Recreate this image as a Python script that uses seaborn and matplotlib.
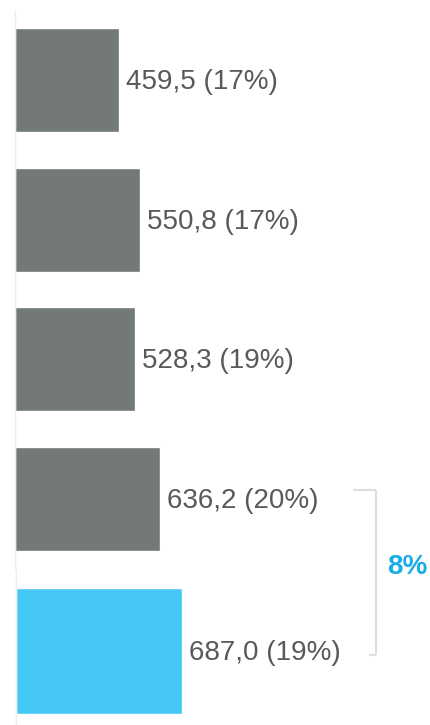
import matplotlib
matplotlib.use("Agg")
import matplotlib.pyplot as plt
from matplotlib.lines import Line2D
import seaborn as sns
import pandas as pd

# data
categories = ["P1", "P2", "P3", "P4", "P5"]
values = [459.5, 550.8, 528.3, 636.2, 687.0]
shares = [17, 17, 19, 20, 19]
growth_label = "8%"

GRAY = "#737878"
BLUE = "#45C8F5"
TEXT = "#595959"
ACCENT = "#1AACE6"
LINE = "#DDDDDD"

sns.set_theme(style="white")
plt.rcParams["font.family"] = ["Liberation Sans", "DejaVu Sans"]

W, H = 431, 725
fig = plt.figure(figsize=(W / 100, H / 100), dpi=100)

def fx(px):
    return px / W

def fy(py):
    return (H - py) / H

# top panel: gray bars
x0a, ya_top, ya_bot = 14.7, 10, 569
ax1 = fig.add_axes([fx(x0a), fy(ya_bot), fx(W - x0a), (ya_bot - ya_top) / H])
df1 = pd.DataFrame({"cat": categories[:4], "val": values[:4]})
sns.barplot(data=df1, x="val", y="cat", orient="h", color=GRAY, width=0.745,
            saturation=1, ax=ax1)
ax1.set_xlim(0, (W - x0a) / 0.2277)
ax1.set_ylim(3.5, -0.5)

# bottom panel: highlighted bar
x0b, yb_top, yb_bot = 16.3, 569, 725
ax2 = fig.add_axes([fx(x0b), fy(yb_bot), fx(W - x0b), (yb_bot - yb_top) / H])
df2 = pd.DataFrame({"cat": categories[4:], "val": values[4:]})
sns.barplot(data=df2, x="val", y="cat", orient="h", color=BLUE, width=0.8,
            saturation=1, ax=ax2)
ax2.set_xlim(0, (W - x0b) / 0.2416)
ax2.set_ylim(0.4698, -0.5206)

for ax in (ax1, ax2):
    for s in ("top", "right", "bottom"):
        ax.spines[s].set_visible(False)
    ax.spines["left"].set_color("#EEEEEE")
    ax.spines["left"].set_linewidth(1)
    ax.set_xticks([])
    ax.set_yticks([])
    ax.set_xlabel("")
    ax.set_ylabel("")
    ax.patch.set_alpha(0)

def fmt(v, s):
    return f"{v:.1f}".replace(".", ",") + f" ({s}%)"

for i in range(4):
    ax1.annotate(fmt(values[i], shares[i]), xy=(values[i], i), xytext=(7, -2),
                 textcoords="offset pixels", va="center", ha="left",
                 fontsize=20, color=TEXT)
ax2.annotate(fmt(values[4], shares[4]), xy=(values[4], 0), xytext=(7, -2),
             textcoords="offset pixels", va="center", ha="left",
             fontsize=20, color=TEXT)

# bracket
def fline(xs, ys):
    fig.add_artist(Line2D([fx(x) for x in xs], [fy(y) for y in ys],
                          transform=fig.transFigure, color=LINE, lw=1.5,
                          solid_capstyle="butt"))

fline([353, 376], [490, 490])
fline([376, 376], [490, 655])
fline([369, 376], [655, 655])

fig.text(fx(407), fy(567), growth_label, ha="center", va="center",
         fontsize=20, fontweight="bold", color=ACCENT)

fig.savefig("out.png", dpi=100)
